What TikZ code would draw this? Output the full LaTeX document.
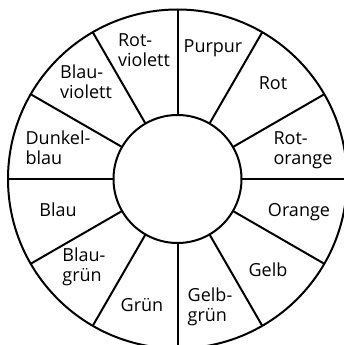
\documentclass[tikz,border=0pt]{standalone}
\usepackage{fontspec}
\setmainfont{Open Sans}
\usetikzlibrary{calc}
\begin{document}
\begin{tikzpicture}[x=1pt,y=-1pt,
  wheel/.style={line width=2pt},
  lbl/.style={align=left,font=\fontsize{18}{20}\selectfont,inner sep=0pt}]
\useasboundingbox (0,0) rectangle (344,345);
\clip (0,0) rectangle (344,345);
\fill[white] (0,0) rectangle (344,345);
\coordinate (c) at (177.5,179);
\draw[wheel] (c) circle[radius=169.5];
\draw[wheel] (c) circle[radius=64];
\foreach \a in {0,30,...,330}{
  \draw[wheel] ($(c)+(\a:64)$) -- ($(c)+(\a:169.5)$);
}
\node[lbl] (rv) at (144,50) {Rot-\\violett};
\node[lbl] (pu) at (213,48) {Purpur};
\node[lbl] (ro) at (273,83) {Rot};
\node[lbl] (rog) at (303,150) {Rot-\\orange};
\node[lbl] (or) at (299,212) {Orange};
\node[lbl] (ge) at (268,270) {Gelb};
\node[lbl] (gg) at (210,307) {Gelb-\\grün};
\node[lbl] (gr) at (142,305) {Grün};
\node[lbl] (bg) at (84,267) {Blau-\\grün};
\node[lbl] (bl) at (58,210) {Blau};
\node[lbl] (db) at (58,148) {Dunkel-\\blau};
\node[lbl] (bv) at (86,82) {Blau-\\violett};
\end{tikzpicture}
\end{document}
